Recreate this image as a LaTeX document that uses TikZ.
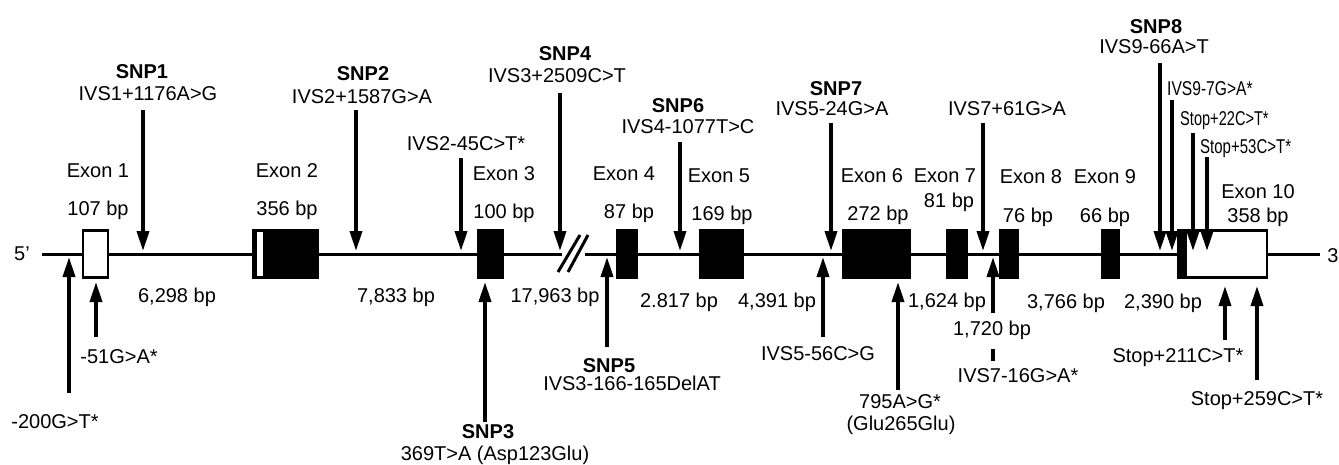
\documentclass[tikz,border=0pt]{standalone}
\usepackage{fontspec}
\usepackage{graphicx}
\setmainfont{Liberation Sans}
\usetikzlibrary{arrows.meta}
\begin{document}
\begin{tikzpicture}[x=1pt,y=-1pt,
  lbl/.style={anchor=base, inner sep=0pt, font=\fontsize{20}{24}\selectfont},
  lblw/.style={anchor=base west, inner sep=0pt, font=\fontsize{20}{24}\selectfont},
  snp/.style={anchor=base, inner sep=0pt, font=\fontsize{20}{24}\selectfont\bfseries},
  mainline/.style={line width=3pt},
  marker/.style={line width=3.5pt, -{Triangle[length=20pt,width=12pt]}},
  tick/.style={line width=3.5pt},
  exonfill/.style={draw, fill=black, line width=1.5pt, inner sep=0pt, minimum height=49pt},
  exonopen/.style={draw, fill=white, line width=2.5pt, inner sep=0pt, minimum height=47pt},
  stripe/.style={fill, inner sep=0pt, minimum height=44pt},
]
\useasboundingbox (0,0) rectangle (1339,464);
\fill[white] (0,0) rectangle (1339,464);

% main line
\coordinate (lstart) at (42,254);
\coordinate (brkL) at (562,254);
\coordinate (brkR) at (585,254);
\coordinate (lend) at (1320,254);
\draw[mainline] (lstart) -- (brkL);
\draw[mainline] (brkR) -- (lend);
\draw[line width=3pt] (558,272) -- (580,235);
\draw[line width=3pt] (568,272) -- (588,235);

% exons
\node[exonopen, minimum width=25pt] (e1) at (95.5,254) {};
\node[exonfill, minimum width=65pt] (e2) at (285.5,254) {};
\node[stripe, white, minimum width=6pt] (e2s) at (260,254) {};
\node[exonfill, minimum width=25pt] (e3) at (490.5,254) {};
\node[exonfill, minimum width=20pt] (e4) at (627,254) {};
\node[exonfill, minimum width=43pt] (e5) at (721.5,254) {};
\node[exonfill, minimum width=67pt] (e6) at (876.5,254) {};
\node[exonfill, minimum width=20pt] (e7) at (957,254) {};
\node[exonfill, minimum width=18pt] (e8) at (1009,254) {};
\node[exonfill, minimum width=17pt] (e9) at (1110.5,254) {};
\node[exonopen, minimum width=89pt] (e10) at (1222.5,254) {};
\node[stripe, black, minimum width=9pt, minimum height=48pt] (e10s) at (1182.5,254) {};

% end labels
\node[lbl] (p5) at (22,260) {5'};
\node[lbl] (p3) at (1333,262) {3};

% exon labels
\node[lbl] (x1) at (98,177) {Exon 1};
\node[lbl] (b1) at (98,215) {107 bp};
\node[lbl] (x2) at (287,177) {Exon 2};
\node[lbl] (b2) at (287,215) {356 bp};
\node[lbl] (x3) at (504,180) {Exon 3};
\node[lbl] (b3) at (504,218) {100 bp};
\node[lbl] (x4) at (624,180) {Exon 4};
\node[lbl] (b4) at (629,218) {87 bp};
\node[lbl] (x5) at (719,182) {Exon 5};
\node[lbl] (b5) at (722,220) {169 bp};
\node[lbl] (x6) at (872,182) {Exon 6};
\node[lbl] (b6) at (878,220) {272 bp};
\node[lbl] (x7) at (945,182) {Exon 7};
\node[lbl] (b7) at (949,207) {81 bp};
\node[lbl] (x8) at (1031,183) {Exon 8};
\node[lbl] (b8) at (1028,222) {76 bp};
\node[lbl] (x9) at (1105,183) {Exon 9};
\node[lbl] (b9) at (1105,222) {66 bp};
\node[lbl] (x10) at (1258,198) {Exon 10};
\node[lbl] (b10) at (1258,222) {358 bp};

% intron labels
\node[lbl] (i1) at (177,302) {6,298 bp};
\node[lbl] (i2) at (396,302) {7,833 bp};
\node[lbl] (i3) at (555,302) {17,963 bp};
\node[lbl] (i4) at (679,307) {2.817 bp};
\node[lbl] (i5) at (777,307) {4,391 bp};
\node[lbl] (i6) at (947,307) {1,624 bp};
\node[lbl] (i8) at (1066,308) {3,766 bp};
\node[lbl] (i9) at (1163,308) {2,390 bp};

% top variant labels
\node[snp] (s1) at (142,78) {SNP1};
\node[lbl] (v1) at (148,100) {IVS1+1176A>G};
\node[snp] (s2) at (363,80) {SNP2};
\node[lbl] (v2) at (362,103) {IVS2+1587G>A};
\node[lbl] (v3) at (466,150) {IVS2-45C>T*};
\node[snp] (s4) at (565,60) {SNP4};
\node[lbl] (v4) at (557,82) {IVS3+2509C>T};
\node[snp] (s6) at (678,112) {SNP6};
\node[lbl] (v6) at (688,133) {IVS4-1077T>C};
\node[snp] (s7) at (836,95) {SNP7};
\node[lbl] (v7) at (832,115) {IVS5-24G>A};
\node[lbl] (v8) at (1007,115) {IVS7+61G>A};
\node[snp] (s8) at (1156,33) {SNP8};
\node[lbl] (v9) at (1154,53) {IVS9-66A>T};
\node[lblw] (v10) at (1167,95) {\scalebox{0.78}[1]{IVS9-7G>A*}};
\node[lblw] (v11) at (1180,125) {\scalebox{0.73}[1]{Stop+22C>T*}};
\node[lblw] (v12) at (1200,153) {\scalebox{0.75}[1]{Stop+53C>T*}};

% bottom variant labels
\node[lbl] (w1) at (55,428) {-200G>T*};
\node[lbl] (w2) at (119,363) {-51G>A*};
\node[snp] (s3) at (488,438) {SNP3};
\node[lbl] (w3) at (495,460) {369T>A (Asp123Glu)};
\node[snp] (s5) at (609,372) {SNP5};
\node[lbl] (w5) at (632,390) {IVS3-166-165DelAT};
\node[lbl] (w6) at (818,360) {IVS5-56C>G};
\node[lbl] (w7) at (900,408) {795A>G*};
\node[lbl] (w7b) at (901,430) {(Glu265Glu)};
\node[lbl] (i7) at (992,335) {1,720 bp};
\node[lbl] (w8) at (1018,382) {IVS7-16G>A*};
\node[lbl] (w9) at (1178,362) {Stop+211C>T*};
\node[lbl] (w10) at (1257,405) {Stop+259C>T*};

% arrow coordinates (down)
\coordinate (d1t) at (143,110);  \coordinate (d1h) at (143,251);
\coordinate (d2t) at (356,110);  \coordinate (d2h) at (356,251);
\coordinate (d3t) at (461,158);  \coordinate (d3h) at (461,251);
\coordinate (d4t) at (560,93);   \coordinate (d4h) at (560,251);
\coordinate (d5t) at (680,142);  \coordinate (d5h) at (680,251);
\coordinate (d6t) at (831,123);  \coordinate (d6h) at (831,251);
\coordinate (d7t) at (983,123);  \coordinate (d7h) at (983,251);
\coordinate (d8t) at (1160,63);  \coordinate (d8h) at (1160,251);
\coordinate (d9t) at (1172,100); \coordinate (d9h) at (1172,251);
\coordinate (d10t) at (1193,133); \coordinate (d10h) at (1193,251);
\coordinate (d11t) at (1207,157); \coordinate (d11h) at (1207,251);
\foreach \i in {1,...,11} { \draw[marker] (d\i t) -- (d\i h); }

% arrow coordinates (up)
\coordinate (u1t) at (69,393);   \coordinate (u1h) at (69,257);
\coordinate (u2t) at (96,337);   \coordinate (u2h) at (96,282);
\coordinate (u3t) at (485,422);  \coordinate (u3h) at (485,282);
\coordinate (u4t) at (607,347);  \coordinate (u4h) at (607,257);
\coordinate (u5t) at (823,337);  \coordinate (u5h) at (823,257);
\coordinate (u6t) at (898,390);  \coordinate (u6h) at (898,282);
\coordinate (u7t) at (993,313);  \coordinate (u7h) at (993,257);
\coordinate (u8t) at (1225,340); \coordinate (u8h) at (1225,286);
\coordinate (u9t) at (1257,380); \coordinate (u9h) at (1257,286);
\foreach \i in {1,...,9} { \draw[marker] (u\i t) -- (u\i h); }
\coordinate (k1) at (993,349);
\coordinate (k2) at (993,361);
\draw[tick] (k1) -- (k2);
\end{tikzpicture}
\end{document}
